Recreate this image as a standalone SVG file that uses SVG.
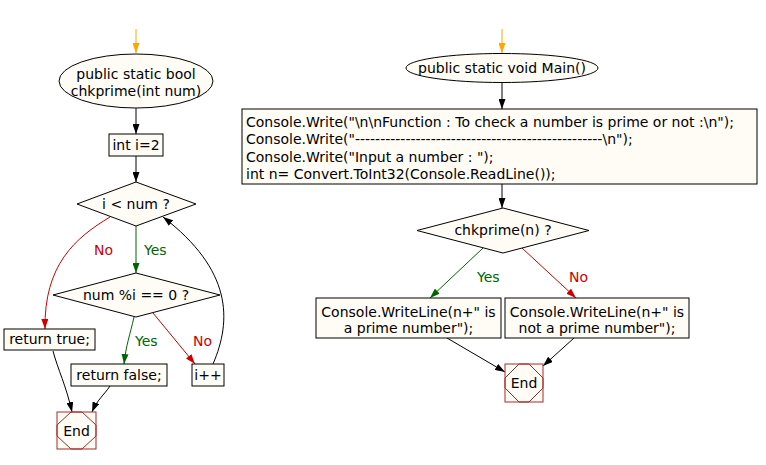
<svg xmlns="http://www.w3.org/2000/svg" width="766" height="465" viewBox="0 0 766 465">
<defs>
<style>
.n{fill:#fffcf5;stroke:#000;stroke-width:1}
.end{fill:#fffcf5;stroke:#a52a2a;stroke-width:1}
.endi{fill:none;stroke:#a52a2a;stroke-width:1}
text{font-family:"DejaVu Sans","Liberation Sans",sans-serif;font-size:14px;fill:#000}
.c{text-anchor:middle}
.e{fill:none;stroke-width:1}
.k{stroke:#000}
.g{stroke:#006400}
.r{stroke:#cc0000}
.o{stroke:#ffa500}
.lg{fill:#006400}
.lr{fill:#cc0000}
</style>
<marker id="ak" viewBox="0 0 10 7" refX="10" refY="3.5" markerWidth="10" markerHeight="7" markerUnits="userSpaceOnUse" orient="auto"><path d="M0,0L10,3.5L0,7z" fill="#000"/></marker>
<marker id="ag" viewBox="0 0 10 7" refX="10" refY="3.5" markerWidth="10" markerHeight="7" markerUnits="userSpaceOnUse" orient="auto"><path d="M0,0L10,3.5L0,7z" fill="#006400"/></marker>
<marker id="ar" viewBox="0 0 10 7" refX="10" refY="3.5" markerWidth="10" markerHeight="7" markerUnits="userSpaceOnUse" orient="auto"><path d="M0,0L10,3.5L0,7z" fill="#cc0000"/></marker>
<marker id="ao" viewBox="0 0 10 7" refX="10" refY="3.5" markerWidth="10" markerHeight="7" markerUnits="userSpaceOnUse" orient="auto"><path d="M0,0L10,3.5L0,7z" fill="#ffa500"/></marker>
</defs>
<rect width="766" height="465" fill="#fff"/>

<g id="connectors">
<path class="e o" d="M136,29L136,53" marker-end="url(#ao)"/>
<path class="e k" d="M136,108L136,134" marker-end="url(#ak)"/>
<path class="e k" d="M136,156L136,182" marker-end="url(#ak)"/>
<path class="e g" d="M136,226L136,273" marker-end="url(#ag)"/>
<text class="lg" x="144" y="255">Yes</text>
<path class="e r" d="M110,217C75,238 44,265 45,329" marker-end="url(#ar)"/>
<text class="lr" x="94" y="255">No</text>
<path class="e g" d="M134,317C130,335 126,345 124,364" marker-end="url(#ag)"/>
<text class="lg" x="135" y="346">Yes</text>
<path class="e r" d="M153,313L195,364" marker-end="url(#ar)"/>
<text class="lr" x="193" y="346">No</text>
<path class="e k" d="M213,364C232,320 232,270 163,217" marker-end="url(#ak)"/>
<path class="e k" d="M53,351C58,370 66,385 72,412" marker-end="url(#ak)"/>
<path class="e k" d="M110,386C104,395 97,400 92,412" marker-end="url(#ak)"/>

<path class="e o" d="M502,29L502,53" marker-end="url(#ao)"/>
<path class="e k" d="M502,83L502,109" marker-end="url(#ak)"/>
<path class="e k" d="M502,184L502,208" marker-end="url(#ak)"/>
<path class="e g" d="M483,248L430,298" marker-end="url(#ag)"/>
<text class="lg" x="477" y="282">Yes</text>
<path class="e r" d="M522,248L576,298" marker-end="url(#ar)"/>
<text class="lr" x="569" y="282">No</text>
<path class="e k" d="M447,338L505,372" marker-end="url(#ak)"/>
<path class="e k" d="M574,338L543,366" marker-end="url(#ak)"/>
</g>

<g id="chkprime">
<ellipse class="n" cx="136" cy="81" rx="77" ry="27"/>
<text class="c" x="136" y="79">public static bool</text>
<text class="c" x="136" y="96">chkprime(int num)</text>
</g>
<g id="init">
<rect class="n" x="109" y="134" width="54" height="22"/>
<text class="c" x="136" y="150">int i=2</text>
</g>
<g id="cond1">
<polygon class="n" points="136,182 196,204 136,226 77,204"/>
<text class="c" x="136" y="209">i &lt; num ?</text>
</g>
<g id="cond2">
<polygon class="n" points="136,273 220,295 136,317 53,295"/>
<text class="c" x="136" y="300">num %i == 0 ?</text>
</g>
<g id="rettrue">
<rect class="n" x="4" y="329" width="91" height="21"/>
<text class="c" x="49.5" y="344">return true;</text>
</g>
<g id="retfalse">
<rect class="n" x="71" y="364" width="96" height="22"/>
<text class="c" x="119" y="380">return false;</text>
</g>
<g id="inc">
<rect class="n" x="192" y="364" width="32" height="22"/>
<text class="c" x="208" y="380">i++</text>
</g>
<g id="end1">
<rect class="end" x="57" y="412" width="39" height="37"/>
<polygon class="endi" points="71,412 82,412 96,425 96,436 82,449 71,449 57,436 57,425"/>
<text class="c" x="76.5" y="436">End</text>
</g>

<g id="main">
<ellipse class="n" cx="502" cy="68" rx="96" ry="14.5"/>
<text class="c" x="502" y="73">public static void Main()</text>
</g>
<g id="io">
<rect class="n" x="242" y="109" width="515" height="75"/>
<text x="246" y="127">Console.Write("\n\nFunction : To check a number is prime or not :\n");</text>
<text x="246" y="144">Console.Write("-------------------------------------------------\n");</text>
<text x="246" y="162">Console.Write("Input a number : ");</text>
<text x="246" y="179">int n= Convert.ToInt32(Console.ReadLine());</text>
</g>
<g id="cond3">
<polygon class="n" points="503,208 589,230.5 503,253 417,230.5"/>
<text class="c" x="503" y="235">chkprime(n) ?</text>
</g>
<g id="prime">
<rect class="n" x="316" y="298" width="185" height="40"/>
<text class="c" x="408.5" y="317">Console.WriteLine(n+" is</text>
<text class="c" x="408.5" y="333">a prime number");</text>
</g>
<g id="notprime">
<rect class="n" x="505" y="298" width="184" height="40"/>
<text class="c" x="597" y="317">Console.WriteLine(n+" is</text>
<text class="c" x="597" y="333">not a prime number");</text>
</g>
<g id="end2">
<rect class="end" x="505" y="364" width="38" height="38"/>
<polygon class="endi" points="519,364 529,364 543,378 543,388 529,402 519,402 505,388 505,378"/>
<text class="c" x="524" y="388">End</text>
</g>
</svg>
